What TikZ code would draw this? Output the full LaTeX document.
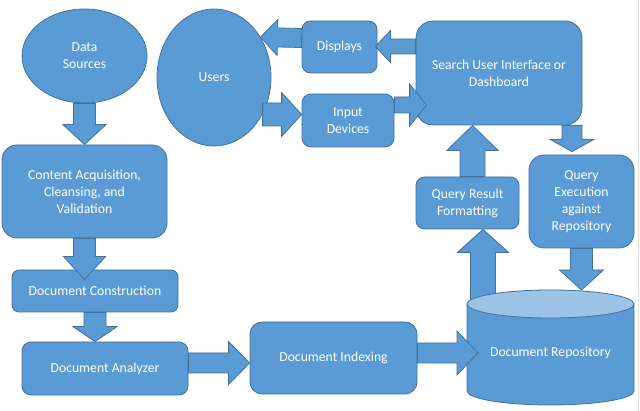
\documentclass[tikz,border=0pt]{standalone}
\usepackage{fontspec}
\setmainfont{Carlito}
\usetikzlibrary{calc,shapes.geometric}
\definecolor{boxblue}{RGB}{91,155,213}
\definecolor{edgeblue}{RGB}{65,113,156}
\definecolor{topblue}{RGB}{157,195,230}
\tikzset{
  txt/.style={text=white, font=\fontsize{13.7}{17}\selectfont, align=center, inner sep=0pt},
  shp/.style={txt, fill=boxblue, draw=edgeblue, line width=0.8pt},
  box/.style={shp, rectangle},
  oval/.style={shp, ellipse},
  blk/.style={fill=boxblue, draw=edgeblue, line width=0.8pt, line join=miter},
}
\newcommand\blockarrow[5]{%
  \coordinate (ba-a) at (#1);
  \coordinate (ba-b) at (#2);
  \coordinate (ba-h) at ($(ba-b)!#5!(ba-a)$);
  \draw[blk] ($(ba-a)!#3!90:(ba-b)$) -- ($(ba-h)!#3!90:(ba-b)$) -- ($(ba-h)!#4!90:(ba-b)$)
    -- (ba-b) -- ($(ba-h)!#4!-90:(ba-b)$) -- ($(ba-h)!#3!-90:(ba-b)$) -- ($(ba-a)!#3!-90:(ba-b)$) -- cycle;
}
\begin{document}
\begin{tikzpicture}[x=1pt,y=-1pt]
\fill[white] (0,0) rectangle (640,411);
\useasboundingbox (0,0) rectangle (640,411);
\draw[gray!25, line width=0.6pt] (638,0) -- (638,411);

% ellipses
\node[oval, minimum width=125pt, minimum height=94pt] (ds) at (84.5,56) {Data\\Sources};
\node[oval, minimum width=114pt, minimum height=137pt] (users) at (214,77.5) {Users};

% boxes
\node[box, rounded corners=15pt, minimum width=165pt, minimum height=93pt] (cab) at (84.5,191.5) {Content Acquisition,\\Cleansing, and\\Validation};
\node[box, rounded corners=7pt, minimum width=166pt, minimum height=42pt] (dc) at (95,291) {Document Construction};
\node[box, rounded corners=9pt, minimum width=166pt, minimum height=53pt] (da) at (105,368.5) {Document Analyzer};
\node[box, rounded corners=12pt, minimum width=167pt, minimum height=72pt] (di) at (333.5,358) {Document Indexing};
\node[box, rounded corners=8.5pt, minimum width=75pt, minimum height=52pt] (disp) at (339.5,47) {Displays};
\node[box, rounded corners=9pt, minimum width=92pt, minimum height=53pt] (id) at (348,120.5) {Input\\Devices};
\node[box, rounded corners=17pt, minimum width=166pt, minimum height=104pt] (sui) at (499,73) {Search User Interface or\\Dashboard};
\node[box, rounded corners=8.5pt, minimum width=103pt, minimum height=52pt] (qrf) at (467.5,203) {Query Result\\Formatting};
\node[box, rounded corners=15pt, minimum width=105pt, minimum height=93pt] (qe) at (581.5,201.5) {Query\\Execution\\against\\Repository};

% cylinder
\draw[blk] (467,304) -- (467,391) arc[start angle=180, end angle=360, x radius=83.5pt, y radius=14pt] -- (634,304) -- cycle;
\coordinate (drc) at (550.5,304);
\coordinate (drt) at (550.5,290);
\coordinate (drw) at (467,347);
\node[txt] (dr) at (550.5,353) {Document Repository};

% block arrows
\blockarrow{ds.south}{ds.south |- cab.north}{11pt}{21.5pt}{20pt}
\blockarrow{cab.south}{$(cab.south |- dc.north)+(0,10)$}{11pt}{21pt}{23pt}
\blockarrow{dc.south}{dc.south |- da.north}{11pt}{22pt}{15pt}
\coordinate (a4) at ([yshift=5.5pt]da.east);
\blockarrow{a4}{a4 -| di.west}{10pt}{21.5pt}{21pt}
\coordinate (a5) at ([yshift=5pt]di.east);
\blockarrow{a5}{$(a5 -| drw)+(11,0)$}{10pt}{22pt}{21pt}
\coordinate (a6) at ([xshift=15.5pt]qrf.south);
\blockarrow{$(a6 |- drc)+(0,-4)$}{a6}{12.5pt}{25.5pt}{23pt}
\coordinate (a7) at ([xshift=5pt]qrf.north);
\blockarrow{a7}{a7 |- sui.south}{12.5pt}{25.5pt}{25pt}
\coordinate (a8) at ([xshift=-9.5pt]qe.north);
\blockarrow{a8 |- sui.south}{$(a8)+(0,-3)$}{10pt}{21.5pt}{12pt}
\blockarrow{qe.south}{qe.south |- drt}{11pt}{22pt}{20pt}
\coordinate (a10) at ([yshift=0.5pt]disp.east);
\blockarrow{a10 -| sui.west}{$(a10)+(-2,0)$}{7.5pt}{16pt}{15pt}
\coordinate (a11) at ([yshift=9pt]disp.west);
\blockarrow{a11}{users.41}{9.5pt}{18pt}{17pt}
\coordinate (a12) at ([yshift=6pt]id.west);
\blockarrow{a12 -| users.-37}{a12}{11.5pt}{22pt}{20pt}
\coordinate (a13) at ([yshift=15.5pt]id.east);
\blockarrow{a13}{$(a13 -| sui.west)+(11,0)$}{8pt}{21pt}{17pt}

% cylinder top (over the arrows)
\draw[fill=topblue, draw=edgeblue, line width=0.8pt] (drc) ellipse[x radius=83.5pt, y radius=14pt];
\end{tikzpicture}
\end{document}
